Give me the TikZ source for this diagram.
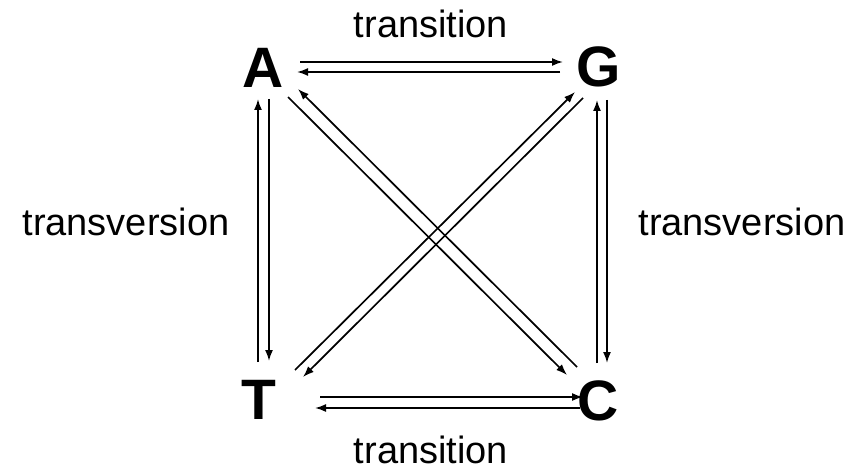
\documentclass[tikz,border=0pt]{standalone}
\usepackage{fontspec}
\setmainfont{Liberation Sans}
\usetikzlibrary{arrows.meta}
\begin{document}
\begin{tikzpicture}[
  x=1pt, y=-1pt,
  nucleotide/.style={inner sep=0pt, font=\fontsize{57}{60}\selectfont\bfseries},
  mutation/.style={inner sep=0pt, anchor=base, font=\fontsize{38}{40}\selectfont},
  arrow/.style={-{Latex[length=11pt,width=8pt]}, line width=1.7pt, black}
]
  \useasboundingbox (0,0) rectangle (851,468);

  \node[nucleotide] (a) at (263,68)  {A};
  \node[nucleotide] (g) at (599,67)  {G};
  \node[nucleotide] (t) at (259,400) {T};
  \node[nucleotide] (c) at (598,401) {C};

  \node[mutation] (ts top)    at (431,38)  {transition};
  \node[mutation] (ts bottom) at (431,463) {transition};
  \node[mutation] (tv left)   at (126,235) {transversion};
  \node[mutation] (tv right)  at (742,235) {transversion};

  % transitions
  \draw[arrow] ([shift={(37,-6)}]a.center) -- ([shift={(-36,-5)}]g.center);
  \draw[arrow] ([shift={(-39,5)}]g.center) -- ([shift={(34,4)}]a.center);
  \draw[arrow] ([shift={(61,-3)}]t.center) -- ([shift={(-15,-4)}]c.center);
  \draw[arrow] ([shift={(-18,7)}]c.center) -- ([shift={(56,8)}]t.center);

  % transversions
  \draw[arrow] ([shift={(-1,-38)}]t.center) -- ([shift={(-5,31)}]a.center);
  \draw[arrow] ([shift={(6,31)}]a.center) -- ([shift={(10,-39)}]t.center);
  \draw[arrow] ([shift={(-1,-38)}]c.center) -- ([shift={(-2,33)}]g.center);
  \draw[arrow] ([shift={(8,33)}]g.center) -- ([shift={(9,-38)}]c.center);
  \draw[arrow] ([shift={(25,29)}]a.center) -- ([shift={(-31,-26)}]c.center);
  \draw[arrow] ([shift={(-21,-34)}]c.center) -- ([shift={(35,21)}]a.center);
  \draw[arrow] ([shift={(36,-30)}]t.center) -- ([shift={(-24,25)}]g.center);
  \draw[arrow] ([shift={(-16,31)}]g.center) -- ([shift={(44,-23)}]t.center);
\end{tikzpicture}
\end{document}
